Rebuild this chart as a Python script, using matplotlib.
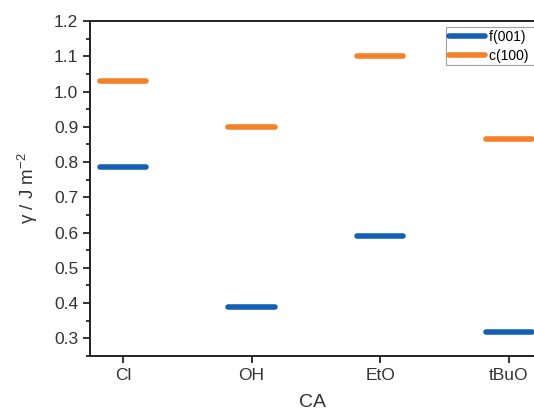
import matplotlib
matplotlib.use('Agg')
import matplotlib.pyplot as plt
from matplotlib.ticker import AutoMinorLocator

plt.rcParams['font.family'] = ['Liberation Sans', 'DejaVu Sans']
plt.rcParams['mathtext.default'] = 'regular'

# data
categories = ['Cl', 'OH', 'EtO', 'tBuO']
f001 = [0.785, 0.39, 0.59, 0.317]
c100 = [1.03, 0.898, 1.10, 0.865]
series_names = ['f(001)', 'c(100)']

blue = '#1560B5'
orange = '#F58025'
half = 0.18

fig = plt.figure(figsize=(5.34, 4.17), dpi=100)
ax = fig.add_axes([90 / 534, 1 - 356 / 417, 1 - 90 / 534, (356 - 21) / 417])

xs = range(1, len(categories) + 1)
for i, x in enumerate(xs):
    ax.plot([x - half, x + half], [f001[i], f001[i]], color=blue, lw=4,
            solid_capstyle='round', label=series_names[0] + '  ' if i == 0 else None)
    ax.plot([x - half, x + half], [c100[i], c100[i]], color=orange, lw=4,
            solid_capstyle='round', label=series_names[1] + '  ' if i == 0 else None)

ax.set_xlim(0.744, 4.195)
ax.set_ylim(0.25, 1.2)
ax.set_xticks(list(xs))
ax.set_xticklabels(categories)
ax.set_yticks([0.3, 0.4, 0.5, 0.6, 0.7, 0.8, 0.9, 1.0, 1.1, 1.2])
ax.yaxis.set_minor_locator(AutoMinorLocator(2))
ax.tick_params(axis='both', which='major', direction='out', length=5, width=1.3,
               labelsize=12.5, colors='#222222', labelcolor='#333333')
ax.tick_params(axis='y', which='minor', direction='out', length=3, width=1.1)

for s in ['left', 'bottom', 'top']:
    ax.spines[s].set_linewidth(1.4)
    ax.spines[s].set_color('#222222')
ax.spines['right'].set_visible(False)

ax.set_xlabel('CA', fontsize=14, color='#333333', labelpad=8)
ax.set_ylabel('γ / J m$^{-2}$', fontsize=13.5, color='#333333', labelpad=10)

leg = fig.legend(loc='upper left', bbox_to_anchor=(446 / 534, 1 - 27 / 417),
                 fontsize=10, frameon=True, fancybox=False, borderaxespad=0,
                 handlelength=2.6, labelspacing=0.35, borderpad=0.2,
                 handletextpad=0.3)
leg.get_frame().set_edgecolor('#888888')
leg.get_frame().set_linewidth(0.8)

fig.savefig('out.png', dpi=100)
